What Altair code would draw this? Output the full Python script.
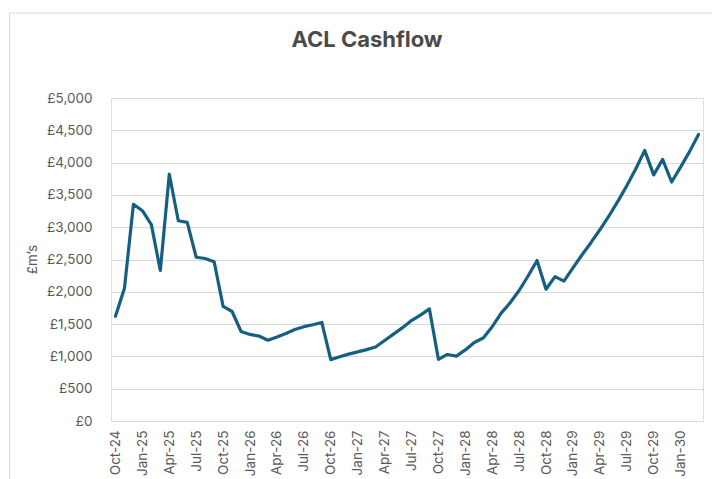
import altair as alt
import pandas as pd

# Monthly cashflow, Oct-24 to Mar-30 (£m)
months = [
    "Oct-24", "Nov-24", "Dec-24", "Jan-25", "Feb-25", "Mar-25", "Apr-25", "May-25", "Jun-25",
    "Jul-25", "Aug-25", "Sep-25", "Oct-25", "Nov-25", "Dec-25", "Jan-26", "Feb-26", "Mar-26",
    "Apr-26", "May-26", "Jun-26", "Jul-26", "Aug-26", "Sep-26", "Oct-26", "Nov-26", "Dec-26",
    "Jan-27", "Feb-27", "Mar-27", "Apr-27", "May-27", "Jun-27", "Jul-27", "Aug-27", "Sep-27",
    "Oct-27", "Nov-27", "Dec-27", "Jan-28", "Feb-28", "Mar-28", "Apr-28", "May-28", "Jun-28",
    "Jul-28", "Aug-28", "Sep-28", "Oct-28", "Nov-28", "Dec-28", "Jan-29", "Feb-29", "Mar-29",
    "Apr-29", "May-29", "Jun-29", "Jul-29", "Aug-29", "Sep-29", "Oct-29", "Nov-29", "Dec-29",
    "Jan-30", "Feb-30", "Mar-30",
]
cashflow = [
    1620, 2055, 3355, 3255, 3040, 2330, 3820, 3100, 3075,
    2535, 2515, 2465, 1775, 1695, 1385, 1340, 1315, 1250,
    1300, 1355, 1415, 1460, 1490, 1525, 950, 995, 1035,
    1070, 1105, 1145, 1245, 1345, 1445, 1555, 1640, 1735,
    955, 1030, 1005, 1100, 1215, 1285, 1460, 1670, 1830,
    2020, 2245, 2485, 2040, 2235, 2165, 2370, 2570, 2760,
    2960, 3170, 3400, 3640, 3900, 4190, 3810, 4050, 3700,
    3930, 4170, 4435,
]
# Quarterly labels shown on the category axis
quarter_labels = months[::3]
y_ticks = [0, 500, 1000, 1500, 2000, 2500, 3000, 3500, 4000, 4500, 5000]

df = pd.DataFrame({"month": months, "cashflow": cashflow})

FONT = "Inter"
TEXT = "#595959"
GRID = "#d9d9d9"

line = alt.Chart(df).mark_line(
    color="#156082", strokeWidth=3.2, strokeJoin="round", strokeCap="round"
).encode(
    x=alt.X(
        "month:O",
        sort=None,
        scale=alt.Scale(type="point", padding=0.5),
        axis=alt.Axis(
            values=quarter_labels,
            title=None,
            labelAngle=-90,
            labelFontSize=13.5,
            labelColor=TEXT,
            labelFont=FONT,
            labelPadding=9,
            ticks=False,
            grid=False,
            domainColor=GRID,
            domainWidth=1,
        ),
    ),
    y=alt.Y(
        "cashflow:Q",
        scale=alt.Scale(domain=[0, 5000], nice=False, zero=True),
        axis=alt.Axis(
            values=y_ticks,
            labelExpr="'£' + format(datum.value, ',')",
            title="£m’s",
            titleFont=FONT,
            titleFontSize=13.5,
            titleFontWeight="normal",
            titleColor=TEXT,
            titleAngle=-90,
            titleX=-79,
            titleY=161,
            titleAlign="center",
            titleBaseline="middle",
            labelFontSize=13.5,
            labelColor=TEXT,
            labelFont=FONT,
            labelPadding=19,
            ticks=False,
            domain=False,
            gridColor=GRID,
            gridWidth=1,
        ),
    ),
)

# Outer chart frame
frame = alt.Chart(alt.Data(values=[{}])).mark_rect(
    fill=None, stroke=GRID, strokeWidth=1, clip=False
).encode(
    x=alt.value(-101.5),
    x2=alt.value(612),
    y=alt.value(-85),
    y2=alt.value(400),
)

chart = alt.layer(frame, line).properties(
    width=592,
    height=323,
    title=alt.TitleParams(
        "ACL Cashflow",
        font=FONT,
        fontSize=22,
        fontWeight="bold",
        color="#4a4a4a",
        anchor="middle",
        baseline="alphabetic",
        dx=-40,
        dy=60,
    ),
    autosize=alt.AutoSizeParams(type="none"),
    padding={"left": 111, "top": 98, "right": 9, "bottom": 58},
).configure_view(stroke=None).configure(background="white")

chart.save("out.html", embed_options={"renderer": "svg", "actions": False})
